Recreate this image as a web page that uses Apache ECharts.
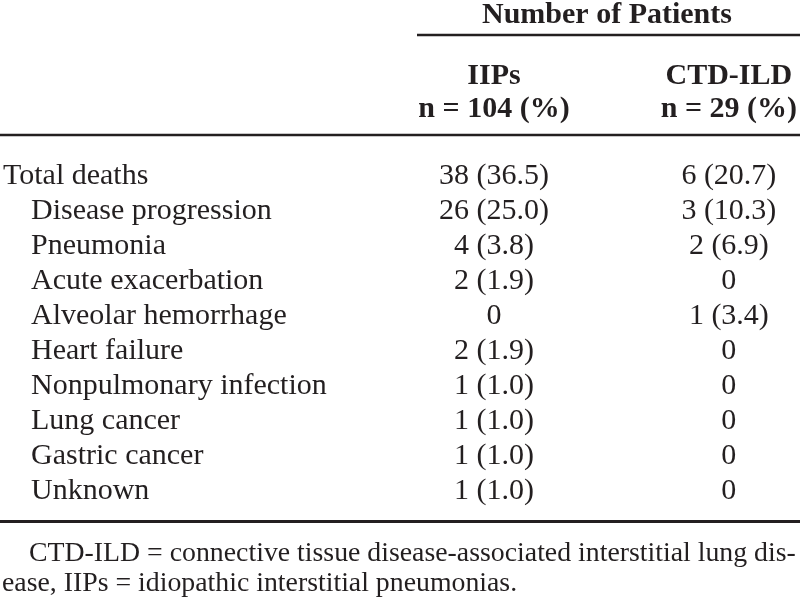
<!DOCTYPE html>
<html>
<head>
<meta charset="utf-8">
<script src="https://cdn.jsdelivr.net/npm/echarts@6/dist/echarts.min.js"></script>
<style>
html,body{margin:0;padding:0;background:#fff;}
#chart{width:800px;height:599px;}
</style>
</head>
<body>
<div id="chart"></div>
<script>
// ---- data ----
const headerTitle = 'Number of Patients';
const columnNames = ['IIPs', 'CTD-ILD'];
const columnCounts = ['n = 104 (%)', 'n = 29 (%)'];
const rowLabels = ['Total deaths', 'Disease progression', 'Pneumonia', 'Acute exacerbation',
  'Alveolar hemorrhage', 'Heart failure', 'Nonpulmonary infection', 'Lung cancer',
  'Gastric cancer', 'Unknown'];
const rowIsSub = [false, true, true, true, true, true, true, true, true, true];
const iipsValues = ['38 (36.5)', '26 (25.0)', '4 (3.8)', '2 (1.9)', '0', '2 (1.9)',
  '1 (1.0)', '1 (1.0)', '1 (1.0)', '1 (1.0)'];
const ctdValues = ['6 (20.7)', '3 (10.3)', '2 (6.9)', '0', '1 (3.4)', '0',
  '0', '0', '0', '0'];
const footnoteLines = [
  'CTD-ILD = connective tissue disease-associated interstitial lung dis-',
  'ease, IIPs = idiopathic interstitial pneumonias.'
];

// ---- chart ----
const INK = '#231f20';
const FONT = '"Liberation Serif", "Times New Roman", serif';
const cellData = [];
iipsValues.forEach((v, i) => cellData.push([0, i, v]));
ctdValues.forEach((v, i) => cellData.push([1, i, v]));

const chart = echarts.init(document.getElementById('chart'), null, {renderer: 'canvas'});
chart.setOption({
  animation: false,
  backgroundColor: '#ffffff',
  grid: {left: 494, right: 71, top: 176, bottom: 108, containLabel: false},
  xAxis: {
    type: 'category',
    position: 'top',
    data: columnNames,
    boundaryGap: false,
    axisLine: {show: false},
    axisTick: {show: false},
    splitLine: {show: false},
    axisLabel: {
      interval: 0,
      margin: 50,
      color: INK,
      fontFamily: FONT,
      fontWeight: 'bold',
      fontSize: 30,
      lineHeight: 33,
      formatter: (v, i) => v + '\n' + columnCounts[i]
    }
  },
  yAxis: {
    type: 'category',
    inverse: true,
    data: rowLabels,
    boundaryGap: false,
    axisLine: {show: false},
    axisTick: {show: false},
    splitLine: {show: false},
    axisLabel: {
      interval: 0,
      align: 'left',
      margin: 491,
      color: INK,
      fontFamily: FONT,
      fontSize: 30,
      formatter: (v, i) => rowIsSub[i] ? '{sub|' + v + '}' : '{top|' + v + '}',
      rich: {
        top: {fontFamily: FONT, fontSize: 30, color: INK},
        sub: {fontFamily: FONT, fontSize: 30, color: INK, padding: [0, 0, 0, 28]}
      }
    }
  },
  series: [{
    type: 'scatter',
    data: cellData,
    symbolSize: 0,
    silent: true,
    itemStyle: {opacity: 1, color: INK},
    label: {
      show: true,
      position: 'inside',
      formatter: p => p.value[2],
      color: INK,
      opacity: 1,
      fontFamily: FONT,
      fontSize: 30
    }
  }],
  graphic: [
    {type: 'text', left: 608 - 126, top: 0,
      style: {text: headerTitle, fill: INK, font: 'bold 30px ' + FONT}},
    {type: 'line', shape: {x1: 417, y1: 35, x2: 800, y2: 35}, style: {stroke: INK, lineWidth: 2.5}},
    {type: 'line', shape: {x1: 0, y1: 135, x2: 800, y2: 135}, style: {stroke: INK, lineWidth: 2.5}},
    {type: 'line', shape: {x1: 0, y1: 521.5, x2: 800, y2: 521.5}, style: {stroke: INK, lineWidth: 3}},
    {type: 'text', left: 29, top: 540,
      style: {text: footnoteLines[0], fill: INK, font: '27.8px ' + FONT}},
    {type: 'text', left: 2, top: 570,
      style: {text: footnoteLines[1], fill: INK, font: '27.8px ' + FONT}}
  ]
});
</script>
</body>
</html>
